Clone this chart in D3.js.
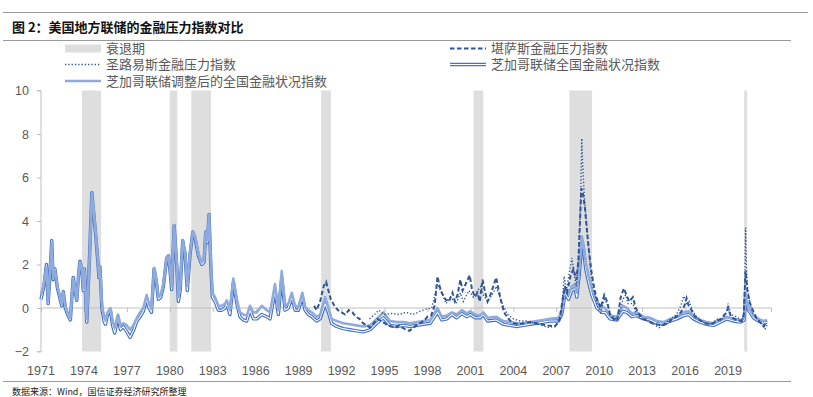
<!DOCTYPE html>
<html>
<head>
<meta charset="utf-8">
<script src="https://cdn.jsdelivr.net/npm/d3@7"></script>
<style>
  body { margin: 0; background: #fff; }
  svg { display: block; }
  .cn { font-family: "Noto Sans CJK SC", sans-serif; }
  .num { font-family: "Liberation Sans", Arial, sans-serif; }
</style>
</head>
<body>
<div id="plot"></div>
<script>
// recession periods (start, end as decimal years)
var recessionStart = [1973.87, 1980.0, 1981.5, 1990.57, 2001.22, 2007.92, 2020.13];
var recessionEnd   = [1975.2, 1980.52, 1982.88, 1991.25, 2001.9, 2009.5, 2020.33];

// Chicago Fed NFCI and ANFCI
var fciYears = [1971.0,1971.2,1971.38,1971.5,1971.62,1971.75,1971.85,1971.97,1972.15,1972.3,1972.45,1972.56,1972.7,1972.85,
  1973.05,1973.25,1973.35,1973.5,1973.62,1973.72,1973.85,1973.95,1974.03,1974.2,1974.4,1974.55,1974.65,1974.8,1974.95,
  1975.05,1975.12,1975.25,1975.4,1975.5,1975.65,1975.85,1976.0,1976.15,1976.38,1976.55,1976.75,1977.0,1977.22,1977.45,
  1977.7,1977.92,1978.15,1978.38,1978.55,1978.72,1978.9,1979.04,1979.2,1979.37,1979.55,1979.78,1979.9,1980.0,1980.13,
  1980.3,1980.48,1980.6,1980.72,1980.9,1981.06,1981.22,1981.42,1981.6,1981.76,1982.0,1982.23,1982.39,1982.51,1982.62,
  1982.74,1982.86,1982.97,1983.16,1983.39,1983.63,1983.86,1983.98,1984.2,1984.44,1984.68,1984.9,1985.14,1985.37,1985.6,
  1985.84,1986.07,1986.42,1986.77,1987.0,1987.35,1987.58,1987.82,1988.05,1988.28,1988.52,1988.75,1988.98,1989.26,1989.45,
  1989.68,1989.92,1990.26,1990.5,1990.85,1991.08,1991.3,1991.66,1992.12,1992.59,1993.05,1993.52,1993.99,1994.46,1994.92,
  1995.39,1995.86,1996.32,1996.79,1997.26,1997.72,1998.19,1998.7,1999.0,1999.35,1999.7,2000.05,2000.4,2000.75,2000.98,
  2001.33,2001.68,2001.9,2002.2,2002.8,2003.3,2003.77,2004.24,2004.7,2005.17,2005.64,2006.1,2006.57,2007.15,2007.38,
  2007.62,2007.85,2008.08,2008.31,2008.43,2008.6,2008.78,2008.9,2009.06,2009.25,2009.48,2009.83,2010.18,2010.41,2010.76,
  2011.23,2011.65,2011.93,2012.28,2012.63,2013.09,2013.56,2014.03,2014.49,2014.96,2015.43,2015.89,2016.24,2016.59,2017.05,
  2017.52,2017.98,2018.45,2018.92,2019.38,2019.85,2020.13,2020.22,2020.28,2020.43,2020.78,2021.13,2021.48,2021.72];
var nfci = [0.4,1.0,2.0,0.2,1.5,3.1,1.3,1.8,0.9,0.5,0.1,0.75,0.0,-0.3,
  -0.55,1.4,0.9,0.35,1.5,2.15,1.8,0.8,1.8,-0.65,2.5,5.3,4.6,3.5,2.3,
  1.4,1.9,0.0,-0.6,-0.75,-0.3,-0.1,-0.8,-1.15,-0.4,-1.0,-0.85,-1.1,-1.35,-1.05,
  -0.6,-0.4,-0.15,0.4,0.0,-0.2,1.8,1.3,0.4,0.5,1.0,2.3,2.4,1.8,0.85,
  3.8,2.0,0.3,0.8,3.1,2.5,0.8,2.5,3.5,3.2,2.4,2.0,2.1,3.5,3.0,
  4.3,2.0,0.5,0.3,-0.1,-0.1,0.0,0.2,-0.3,1.2,0.2,-0.4,-0.55,-0.6,-0.1,
  -0.5,-0.5,-0.3,-0.4,-0.5,0.8,-0.3,1.4,-0.1,0.0,0.5,-0.1,-0.1,0.5,-0.1,
  -0.3,-0.4,-0.6,-0.5,0.2,-0.2,-0.7,-0.85,-0.95,-1.0,-1.05,-1.1,-1.0,-0.7,-0.45,
  -0.8,-0.85,-0.8,-0.85,-0.8,-0.75,-0.7,-0.2,-0.55,-0.5,-0.3,-0.45,-0.25,-0.4,-0.3,
  -0.45,-0.45,-0.3,-0.6,-0.55,-0.75,-0.8,-0.85,-0.8,-0.75,-0.7,-0.65,-0.6,-0.6,-0.3,
  0.7,0.4,0.8,0.9,0.5,1.5,3.0,2.7,1.8,1.2,0.6,0.0,-0.2,-0.2,-0.5,
  -0.55,-0.15,-0.2,-0.4,-0.35,-0.5,-0.55,-0.7,-0.75,-0.6,-0.5,-0.35,-0.3,-0.5,-0.65,
  -0.75,-0.8,-0.65,-0.5,-0.6,-0.65,-0.55,0.5,0.3,-0.1,-0.45,-0.6,-0.7,-0.65];
var anfci = [0.6,1.1,1.9,0.3,1.6,3.0,1.4,1.7,1.0,0.6,0.2,0.7,0.1,-0.2,
  -0.45,1.3,1.0,0.4,1.5,2.1,1.9,0.9,1.7,-0.5,2.4,5.2,4.7,3.6,2.4,
  1.5,1.9,0.2,-0.4,-0.55,-0.2,0.0,-0.6,-0.9,-0.3,-0.8,-0.7,-0.8,-1.0,-0.8,
  -0.45,-0.2,0.0,0.6,0.2,-0.05,1.85,1.4,0.5,0.6,1.1,2.3,2.4,1.9,1.0,
  3.8,2.1,0.5,1.0,3.1,2.6,1.0,2.6,3.5,3.3,2.5,2.1,2.2,3.5,3.1,
  4.3,2.2,0.7,0.5,0.1,0.1,0.2,0.35,-0.1,1.35,0.4,-0.2,-0.3,-0.35,0.1,
  -0.2,-0.2,0.1,-0.1,-0.2,1.1,-0.1,1.7,0.1,0.2,0.7,0.1,0.05,0.7,0.05,
  -0.1,-0.2,-0.4,-0.3,0.5,0.0,-0.5,-0.6,-0.7,-0.75,-0.8,-0.85,-0.8,-0.5,-0.2,
  -0.6,-0.65,-0.65,-0.7,-0.65,-0.6,-0.55,0.0,-0.4,-0.35,-0.2,-0.3,-0.1,-0.25,-0.15,
  -0.3,-0.35,-0.2,-0.45,-0.4,-0.6,-0.65,-0.7,-0.7,-0.65,-0.6,-0.55,-0.5,-0.45,-0.2,
  0.9,0.6,1.0,1.1,0.7,1.8,3.3,2.9,2.1,1.5,0.9,0.3,0.05,0.0,-0.35,
  -0.4,0.1,0.0,-0.25,-0.2,-0.4,-0.45,-0.6,-0.65,-0.5,-0.4,-0.2,-0.15,-0.35,-0.55,
  -0.65,-0.7,-0.55,-0.4,-0.5,-0.55,-0.45,0.7,0.4,0.0,-0.35,-0.5,-0.6,-0.55];

// Kansas City Fed FSI
var kcYears = [1990.08,1990.25,1990.5,1990.75,1990.92,1991.08,1991.25,1991.5,1991.75,1992.0,1992.25,1992.5,1992.75,
  1993.0,1993.25,1993.5,1993.75,1994.0,1994.25,1994.5,1994.75,1995.0,1995.25,1995.5,1995.75,1996.0,1996.25,1996.5,
  1996.75,1997.0,1997.25,1997.5,1997.75,1998.0,1998.25,1998.5,1998.7,1998.85,1999.0,1999.25,1999.5,1999.75,1999.92,
  2000.1,2000.3,2000.45,2000.6,2000.95,2001.1,2001.3,2001.5,2001.65,2001.85,2002.0,2002.2,2002.4,2002.6,2002.8,
  2002.95,2003.15,2003.35,2003.55,2003.8,2004.0,2004.4,2004.8,2005.2,2005.6,2006.0,2006.4,2006.9,2007.2,2007.4,
  2007.6,2007.75,2008.0,2008.2,2008.4,2008.55,2008.75,2008.85,2009.0,2009.15,2009.3,2009.45,2009.6,2009.75,2009.9,
  2010.1,2010.35,2010.55,2010.75,2011.0,2011.25,2011.5,2011.72,2011.9,2012.1,2012.35,2012.55,2012.8,2013.1,2013.4,
  2013.7,2014.0,2014.4,2014.8,2015.1,2015.4,2015.7,2015.95,2016.1,2016.25,2016.45,2016.7,2017.0,2017.4,2017.8,
  2018.2,2018.5,2018.9,2019.0,2019.2,2019.6,2019.95,2020.1,2020.22,2020.35,2020.5,2020.6,2020.8,2021.0,2021.3,
  2021.5,2021.7];
var kcVals = [0.1,-0.1,0.3,1.0,1.2,0.8,0.4,0.1,-0.1,-0.2,-0.3,-0.1,-0.2,
  -0.4,-0.5,-0.7,-0.8,-0.9,-0.7,-0.5,-0.6,-0.7,-0.8,-0.85,-0.9,-0.8,-0.9,-1.0,
  -1.05,-0.9,-0.8,-0.7,-0.6,-0.4,-0.35,0.1,1.45,1.0,0.7,0.4,0.3,0.7,0.3,
  0.6,1.3,0.8,1.0,1.5,0.9,0.5,0.7,0.3,1.3,0.8,0.3,0.6,1.0,1.4,
  0.9,0.3,-0.2,-0.4,-0.6,-0.7,-0.75,-0.7,-0.65,-0.7,-0.75,-0.8,-0.85,-0.6,0.2,
  1.0,0.7,1.5,1.8,1.3,2.2,5.5,5.3,4.6,3.5,2.5,1.7,1.1,0.6,0.3,
  0.0,0.6,0.3,-0.3,-0.5,-0.6,0.5,0.9,0.6,0.3,0.5,0.0,-0.3,-0.5,-0.6,
  -0.7,-0.75,-0.8,-0.7,-0.5,-0.4,-0.2,0.1,0.45,0.1,-0.1,-0.4,-0.55,-0.7,-0.75,
  -0.6,-0.5,-0.2,0.0,-0.4,-0.55,-0.6,-0.3,1.7,0.8,0.3,0.1,-0.2,-0.5,-0.7,
  -0.85,-0.6];

// St. Louis Fed FSI
var stlYears = [1993.95,1994.3,1994.6,1995.0,1995.5,1996.0,1996.5,1997.0,1997.5,1997.9,1998.3,1998.7,1999.0,1999.3,
  1999.6,2000.0,2000.3,2000.5,2000.9,2001.2,2001.5,2001.75,2001.9,2002.2,2002.6,2002.8,2003.0,2003.3,2003.6,2004.0,
  2004.5,2005.0,2005.5,2006.0,2006.5,2007.0,2007.35,2007.55,2007.7,2007.9,2008.1,2008.25,2008.4,2008.55,2008.7,2008.78,
  2008.85,2008.95,2009.1,2009.25,2009.4,2009.55,2009.75,2009.9,2010.1,2010.35,2010.55,2010.8,2011.1,2011.35,2011.65,
  2011.85,2012.0,2012.35,2012.6,2013.0,2013.4,2013.8,2014.2,2014.6,2015.0,2015.4,2015.7,2015.9,2016.1,2016.3,2016.5,
  2016.8,2017.1,2017.5,2017.9,2018.2,2018.5,2018.9,2019.0,2019.2,2019.6,2019.95,2020.1,2020.18,2020.22,2020.28,2020.35,
  2020.5,2020.7,2021.0,2021.3,2021.6,2021.72];
var stlVals = [-0.5,-0.3,-0.1,-0.3,-0.25,-0.3,-0.2,-0.3,-0.15,-0.05,0.0,1.1,0.7,0.2,
  0.5,0.2,0.7,0.3,0.8,0.5,0.8,1.0,0.6,0.3,0.7,1.0,0.6,0.1,-0.3,-0.5,
  -0.6,-0.6,-0.7,-0.8,-0.9,-0.8,-0.3,1.45,0.8,1.6,2.3,1.5,1.0,2.5,5.0,7.8,
  6.5,5.2,4.0,2.8,1.7,1.0,0.5,0.0,-0.2,0.4,0.2,-0.3,-0.5,-0.4,0.4,
  0.6,0.2,0.2,-0.3,-0.5,-0.6,-0.75,-0.9,-0.7,-0.5,-0.3,0.1,0.55,0.2,0.3,-0.1,
  -0.4,-0.6,-0.7,-0.75,-0.5,-0.6,-0.2,0.2,-0.3,-0.4,-0.6,-0.4,1.5,3.7,2.0,1.0,
  0.3,-0.2,-0.5,-0.7,-0.95,-0.8];

var yTicks = [-2, 0, 2, 4, 6, 8, 10];
var xTicks = d3.range(1971, 2023, 3);          // tick marks incl. 2022
var xLabels = d3.range(1971, 2020, 3);         // labels 1971..2019

var legendItems = [
  {label: '衰退期', type: 'rect', col: 0, row: 0},
  {label: '堪萨斯金融压力指数', type: 'dash', col: 1, row: 0},
  {label: '圣路易斯金融压力指数', type: 'dot', col: 0, row: 1},
  {label: '芝加哥联储全国金融状况指数', type: 'double', col: 1, row: 1},
  {label: '芝加哥联储调整后的全国金融状况指数', type: 'solid', col: 0, row: 2}
];

var W = 813, H = 397;
var svg = d3.select('#plot').append('svg').attr('width', W).attr('height', H);

var grey = '#595959', axisCol = '#BFBFBF';
var darkBlue = '#2F5597', midBlue = '#4472C4', lightBlue = '#8FAADC';

// header / footer rules
svg.append('line').attr('x1', 3).attr('x2', 808).attr('y1', 12.5).attr('y2', 12.5).attr('stroke', '#999').attr('stroke-width', 1);
svg.append('line').attr('x1', 3).attr('x2', 791).attr('y1', 40.5).attr('y2', 40.5).attr('stroke', '#999').attr('stroke-width', 1);
svg.append('line').attr('x1', 3).attr('x2', 791).attr('y1', 381.5).attr('y2', 381.5).attr('stroke', '#999').attr('stroke-width', 1);

svg.append('text').attr('class', 'cn').attr('x', 12).attr('y', 31.5)
  .style('font-size', '13px').style('font-weight', 700).attr('fill', '#111')
  .text('图 2：美国地方联储的金融压力指数对比');

svg.append('text').attr('class', 'cn').attr('x', 12).attr('y', 395)
  .style('font-size', '9px').attr('fill', '#222')
  .text('数据来源：Wind，国信证券经济研究所整理');

var x = d3.scaleLinear().domain([1971, 2022]).range([41, 771]);
var y = d3.scaleLinear().domain([-2, 10]).range([351.5, 90.5]);

var plot = svg.append('g');

// recession bands
plot.selectAll('rect.rec').data(recessionStart).enter().append('rect')
  .attr('class', 'rec')
  .attr('x', function(d) { return x(d); })
  .attr('width', function(d, i) { return x(recessionEnd[i]) - x(d); })
  .attr('y', y(10)).attr('height', y(-2) - y(10))
  .attr('fill', '#DEDEDE');

// y axis
var yAxis = d3.axisLeft(y).tickValues(yTicks).tickSize(4).tickPadding(8);
var gy = plot.append('g').attr('transform', 'translate(41,0)').call(yAxis);
gy.select('.domain').attr('stroke', axisCol).attr('d', 'M-4,' + y(10) + 'H0V' + y(-2) + 'H-4');
gy.selectAll('.tick line').attr('stroke', axisCol);
gy.selectAll('text').attr('class', 'num').attr('fill', grey).style('font-size', '12.5px');

// x axis on zero line
var xAxis = d3.axisBottom(x).tickValues(xTicks).tickSize(4).tickFormat('');
var gx = plot.append('g').attr('transform', 'translate(0,' + y(0) + ')').call(xAxis);
gx.select('.domain').attr('stroke', axisCol).attr('d', 'M' + x(1971) + ',0H' + x(2022));
gx.selectAll('.tick line').attr('stroke', axisCol);

plot.selectAll('text.xl').data(xLabels).enter().append('text')
  .attr('class', 'num').attr('x', function(d) { return x(d); }).attr('y', 375)
  .attr('text-anchor', 'middle').attr('fill', grey).style('font-size', '12.5px')
  .text(function(d) { return d; });

var line = d3.line()
  .x(function(d) { return x(d[0]); })
  .y(function(d) { return y(d[1]); });

function pairs(xs, vs) { return xs.map(function(d, i) { return [d, vs[i]]; }); }

// NFCI double line
var nfciData = pairs(fciYears, nfci);
plot.append('path').datum(nfciData).attr('d', line).attr('fill', 'none')
  .attr('stroke', midBlue).attr('stroke-width', 3.4).attr('stroke-linejoin', 'round');
plot.append('path').datum(nfciData).attr('d', line).attr('fill', 'none')
  .attr('stroke', '#fff').attr('stroke-width', 1.1).attr('stroke-linejoin', 'round');

// ANFCI solid
plot.append('path').datum(pairs(fciYears, anfci)).attr('d', line).attr('fill', 'none')
  .attr('stroke', lightBlue).attr('stroke-width', 2.6).attr('stroke-linejoin', 'round');

// Kansas City dashed
plot.append('path').datum(pairs(kcYears, kcVals)).attr('d', line).attr('fill', 'none')
  .attr('stroke', darkBlue).attr('stroke-width', 2).attr('stroke-dasharray', '4.5,2.5');

// St. Louis dotted
plot.append('path').datum(pairs(stlYears, stlVals)).attr('d', line).attr('fill', 'none')
  .attr('stroke', darkBlue).attr('stroke-width', 1.4).attr('stroke-dasharray', '1.3,2');

// legend
var lg = svg.append('g');
var colX = [65, 450], rowY = [48.5, 64.5, 81];
legendItems.forEach(function(it) {
  var lx = colX[it.col], ly = rowY[it.row];
  if (it.type === 'rect') {
    lg.append('rect').attr('x', lx).attr('y', ly - 4).attr('width', 36).attr('height', 8).attr('fill', '#DEDEDE');
  } else if (it.type === 'dash') {
    lg.append('line').attr('x1', lx).attr('x2', lx + 36).attr('y1', ly).attr('y2', ly)
      .attr('stroke', darkBlue).attr('stroke-width', 2).attr('stroke-dasharray', '4.5,2.5');
  } else if (it.type === 'dot') {
    lg.append('line').attr('x1', lx).attr('x2', lx + 36).attr('y1', ly).attr('y2', ly)
      .attr('stroke', darkBlue).attr('stroke-width', 1.4).attr('stroke-dasharray', '1.3,2');
  } else if (it.type === 'double') {
    lg.append('line').attr('x1', lx).attr('x2', lx + 36).attr('y1', ly).attr('y2', ly)
      .attr('stroke', midBlue).attr('stroke-width', 3.4);
    lg.append('line').attr('x1', lx).attr('x2', lx + 36).attr('y1', ly).attr('y2', ly)
      .attr('stroke', '#fff').attr('stroke-width', 1.1);
  } else {
    lg.append('line').attr('x1', lx).attr('x2', lx + 36).attr('y1', ly).attr('y2', ly)
      .attr('stroke', lightBlue).attr('stroke-width', 2.6);
  }
  lg.append('text').attr('class', 'cn').attr('x', lx + 41).attr('y', ly + 4.5)
    .attr('fill', grey).style('font-size', '13px').text(it.label);
});
</script>
</body>
</html>
